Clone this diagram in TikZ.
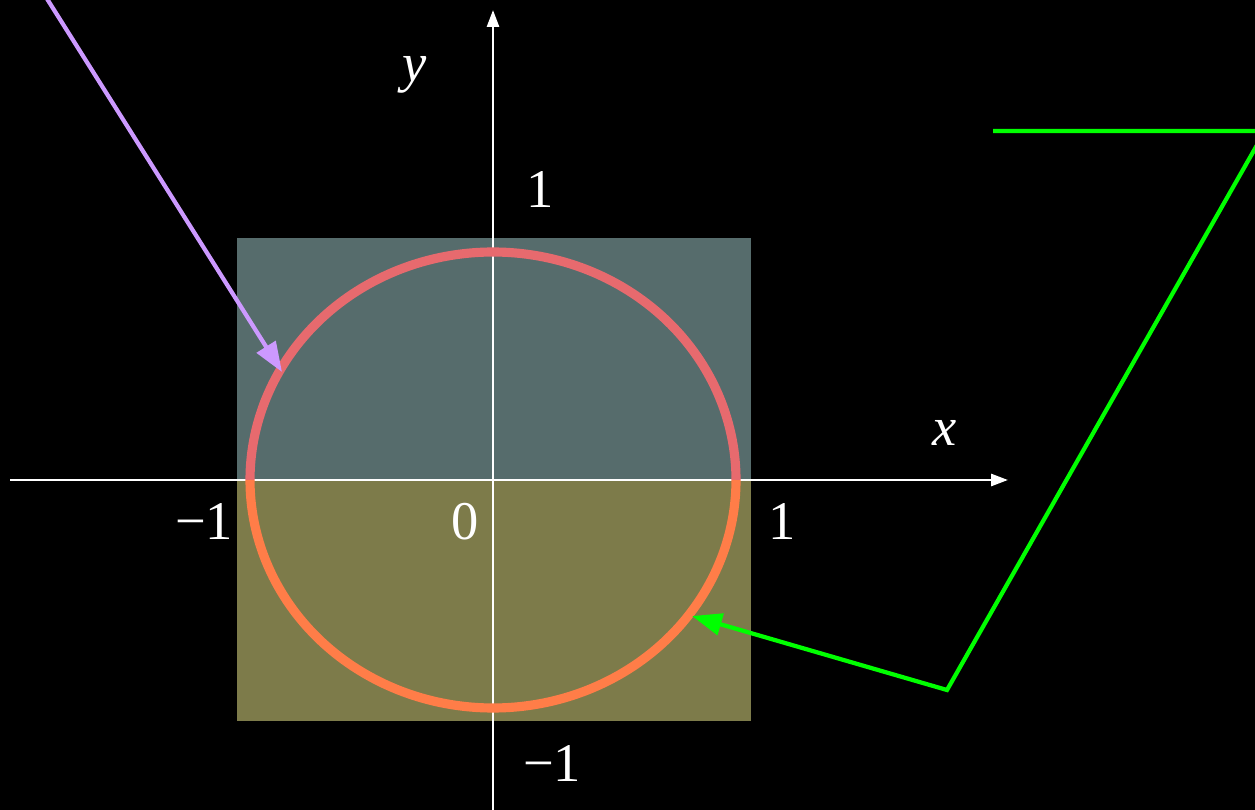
\documentclass[tikz,border=0pt]{standalone}
\usepackage{fontspec}
\setmainfont{Liberation Serif}
\usetikzlibrary{arrows.meta}
\definecolor{topfill}{RGB}{86,108,108}
\definecolor{botfill}{RGB}{125,123,74}
\definecolor{ctop}{RGB}{231,106,110}
\definecolor{cbot}{RGB}{255,125,72}
\definecolor{purp}{RGB}{204,153,255}
\definecolor{grn}{RGB}{0,255,0}
\tikzset{
  axis/.style={white, line width=0.75pt, -{Triangle[length=4.8pt,width=3.4pt]}},
  lbl/.style={white, inner sep=0pt, font=\fontsize{15.5}{17}\selectfont},
  pointer/.style={line width=1.2pt, -{Triangle[length=8.5pt,width=6.2pt]}},
  halfring/.style={line width=2.6pt},
}
\begin{document}
\begin{tikzpicture}[x=0.01cm,y=-0.01cm]
\fill[black] (0,0) rectangle (1255,810);
\useasboundingbox (0,0) rectangle (1255,810);
\begin{scope}
\clip (0,0) rectangle (1255,810);
% filled halves
\fill[topfill] (237,238) rectangle (751,480);
\fill[botfill] (237,480) rectangle (751,721);
% axes
\coordinate (xs) at (10,480);
\coordinate (xe) at (1008,480);
\coordinate (ys) at (493,815);
\coordinate (ye) at (493,10);
\draw[axis] (xs) -- (xe);
\draw[axis] (ys) -- (ye);
% ellipse: top half and bottom half
\draw[halfring, ctop] plot[domain=0:180, samples=91, smooth] ({493+243*cos(\x)},{480-228*sin(\x)});
\draw[halfring, cbot] plot[domain=180:360, samples=91, smooth] ({493+243*cos(\x)},{480-228*sin(\x)});
% labels
\node[lbl] (ly) at (415,75) {\textit{y}};
\node[lbl] (lx) at (945,433) {\textit{x}};
\node[lbl] (l1t) at (540,190) {1};
\node[lbl] (lm1l) at (204,522) {−1};
\node[lbl] (l0) at (465,522) {0};
\node[lbl] (l1r) at (782,522) {1};
\node[lbl] (lm1b) at (552,764) {−1};
% purple pointer
\coordinate (ps) at (44,-6);
\coordinate (pt) at (282,372);
\draw[pointer, purp] (ps) -- (pt);
% green pointer
\coordinate (g0) at (993,131);
\coordinate (g1) at (1265,131);
\coordinate (g2) at (947,690);
\coordinate (g3) at (692,616);
\draw[pointer, grn, line join=miter] (g0) -- (g1) -- (g2) -- (g3);
\end{scope}
\end{tikzpicture}
\end{document}
